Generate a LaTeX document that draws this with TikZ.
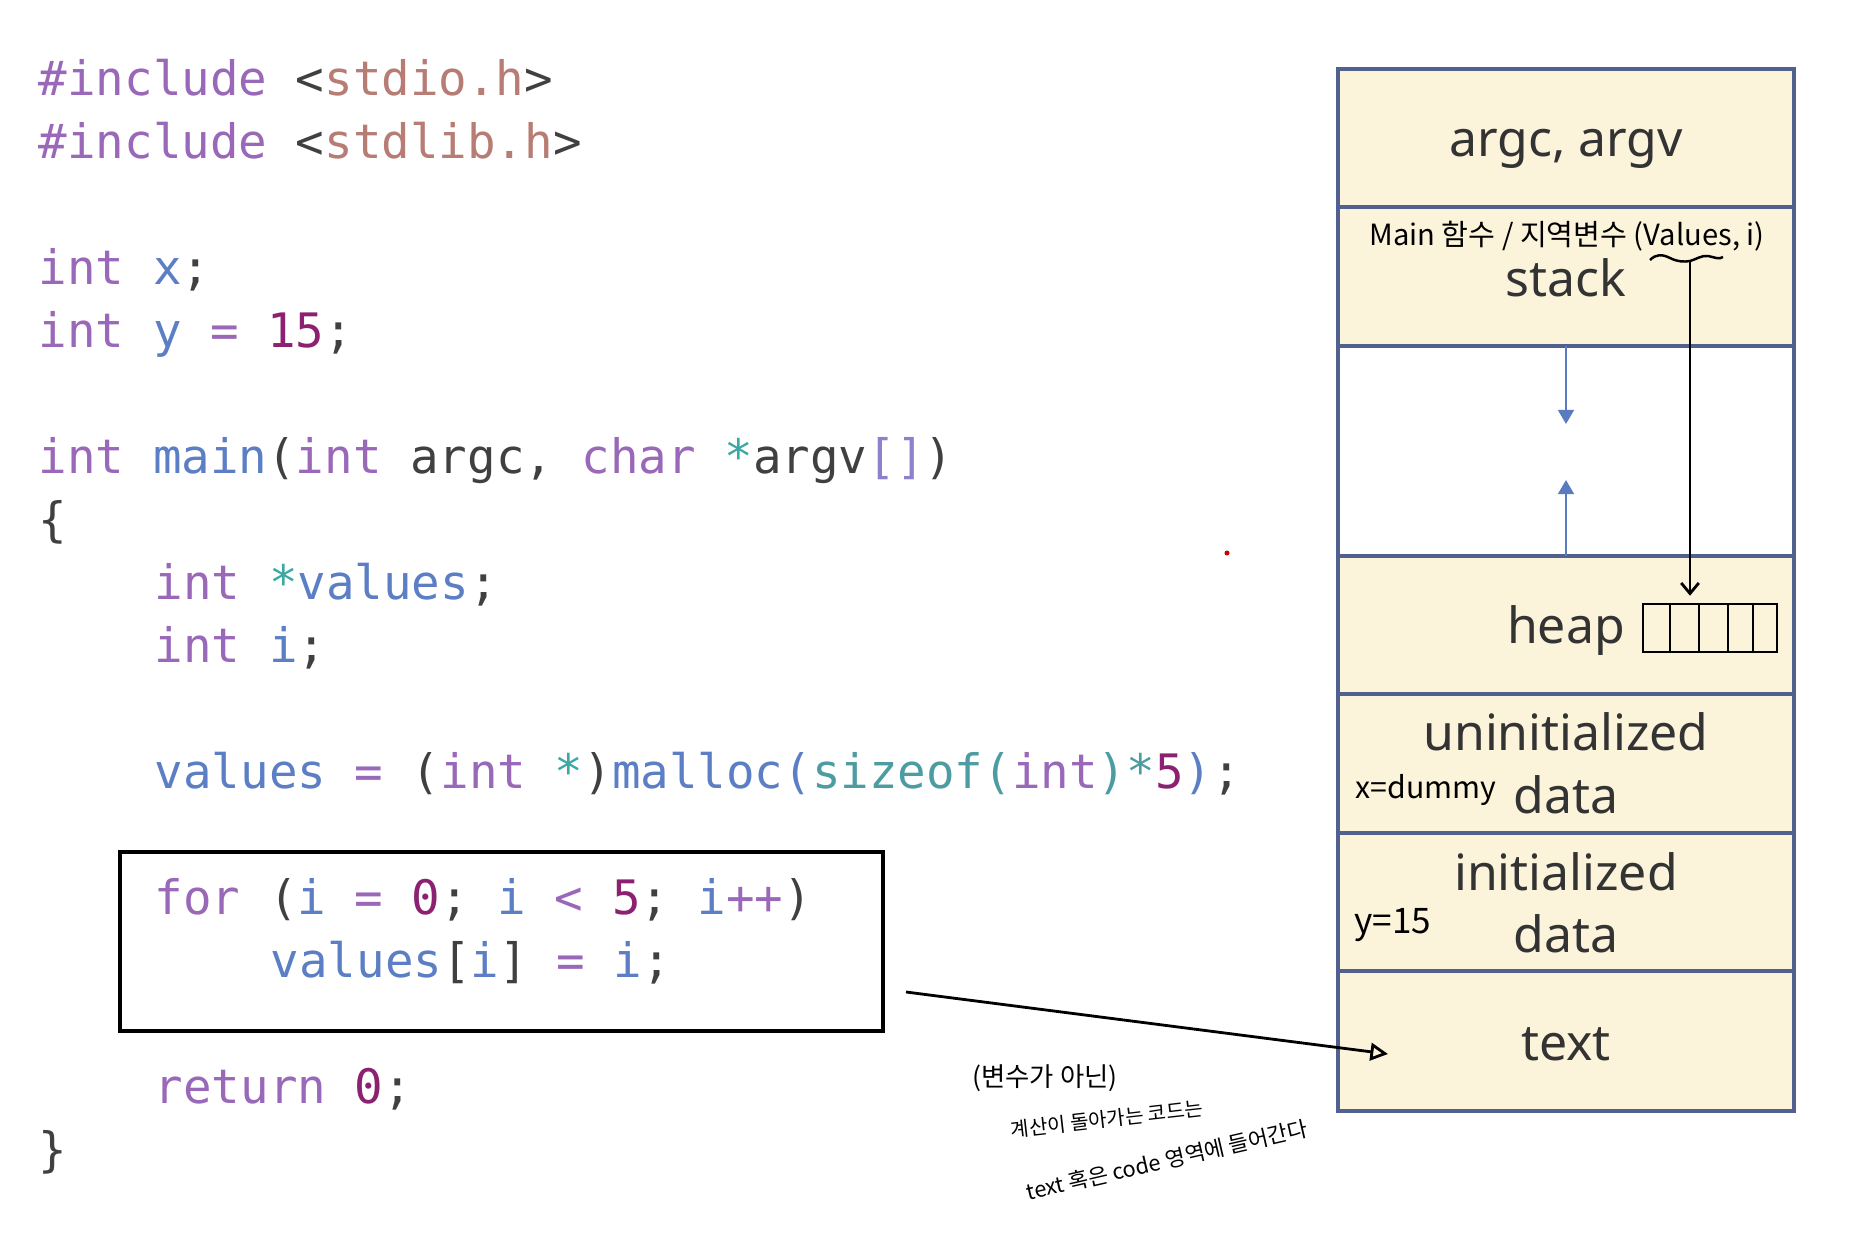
\documentclass[tikz,border=0pt]{standalone}
\usepackage{fontspec}
\setmonofont{DejaVu Sans Mono}
\setsansfont{Noto Sans}
\newfontfamily\hangulfont{Noto Sans CJK KR}
\usetikzlibrary{arrows.meta,positioning}

\definecolor{segcream}{HTML}{FCF3DB}
\definecolor{segblue}{HTML}{50618F}
\definecolor{segtext}{HTML}{333333}
\definecolor{growblue}{HTML}{5B7BC0}
\definecolor{codedark}{HTML}{404040}
\definecolor{kwpurple}{HTML}{9A68B8}
\definecolor{varblue}{HTML}{5B7EC4}
\definecolor{numplum}{HTML}{8B2170}
\definecolor{strrose}{HTML}{B77C74}
\definecolor{starteal}{HTML}{3BA8A3}
\definecolor{fnteal}{HTML}{4C9CA2}
\definecolor{brlav}{HTML}{8C80CF}

\newcommand{\codefont}{\ttfamily\fontsize{13.5}{16}\selectfont}
\newcommand{\segfont}{\sffamily\fontsize{14.2}{17}\selectfont}
\newcommand{\ckw}[1]{\textcolor{kwpurple}{#1}}
\newcommand{\cvar}[1]{\textcolor{varblue}{#1}}
\newcommand{\cnum}[1]{\textcolor{numplum}{#1}}
\newcommand{\cstr}[1]{\textcolor{strrose}{#1}}
\newcommand{\cstar}[1]{\textcolor{starteal}{#1}}
\newcommand{\cfn}[1]{\textcolor{fnteal}{#1}}
\newcommand{\cbr}[1]{\textcolor{brlav}{#1}}

\begin{document}
\begin{tikzpicture}[x=0.01cm,y=-0.01cm,
    codeline/.style={anchor=base west,inner sep=0pt,font=\codefont,text=codedark},
    seglabel/.style={anchor=base,inner sep=0pt,font=\segfont,text=segtext},
    memseg/.style={draw=segblue,line width=1.1pt},
    growth/.style={draw=growblue,line width=0.6pt,-{Triangle[width=4.5pt,length=4pt]}},
    handnote/.style={inner sep=0pt,font=\hangulfont\fontsize{#1}{#1}\selectfont}]
    \useasboundingbox (0,0) rectangle (1856,1242);

    % Source code
    \node[codeline] (inc1) at (38,95) {\ckw{\#include} <\cstr{stdio.h}>};
    \node[codeline] (inc2) at (38,158) {\ckw{\#include} <\cstr{stdlib.h}>};
    \node[codeline] (declx) at (38,284) {\ckw{int} \cvar{x};};
    \node[codeline] (decly) at (38,347) {\ckw{int} \cvar{y} \ckw{=} \cnum{15};};
    \node[codeline] (mainsig) at (38,473) {\ckw{int} \cvar{main}(\ckw{int} argc, \ckw{char} \cstar{*}argv\cbr{[]})};
    \node[codeline] (lbrace) at (38,536) {\{};
    \node[codeline] (declvalues) at (154,599) {\ckw{int} \cstar{*}\cvar{values};};
    \node[codeline] (decli) at (154,662) {\ckw{int} \cvar{i};};
    \node[codeline] (mallocline) at (154,788) {\cvar{values} \ckw{=} (\ckw{int} \cstar{*})\cvar{malloc(}\cfn{sizeof(}\ckw{int}\cfn{)*}\cnum{5}\cvar{)};};
    \node[codeline] (forline) at (154,914) {\ckw{for} (\cvar{i} \ckw{=} \cnum{0}; \cvar{i} \ckw{<} \cnum{5}; \cvar{i}\ckw{++})};
    \node[codeline] (assignline) at (270,977) {\cvar{values}[\cvar{i}] \ckw{=} \cvar{i};};
    \node[codeline] (retline) at (154,1103) {\ckw{return} \cnum{0};};
    \node[codeline] (rbrace) at (38,1166) {\}};

    % Loop box
    \draw[line width=1pt] (120,852) rectangle (883,1031);
    \coordinate (loopout) at (906,992);

    % Memory layout
    \foreach \t/\b/\c in {69/207/segcream,207/346/segcream,346/556/white,556/694/segcream,
                          694/833/segcream,833/971/segcream,971/1111/segcream}
        \draw[memseg,fill=\c] (1338,\t) rectangle (1794,\b);

    \node[seglabel] (argclabel) at (1566,156) {argc, argv};
    \node[seglabel] (stacklabel) at (1566,296) {stack};
    \node[seglabel] (heaplabel) at (1566,643) {heap};
    \node[seglabel] (uninitlabel) at (1566,750) {uninitialized};
    \node[seglabel] (uninitdata) at (1566,813) {data};
    \node[seglabel] (initlabel) at (1566,890) {initialized};
    \node[seglabel] (initdata) at (1566,952) {data};
    \node[seglabel] (textlabel) at (1566,1060) {text};

    % Growth arrows
    \coordinate (stackend) at (1566,346);
    \coordinate (stackgrow) at (1566,424);
    \coordinate (heapend) at (1566,556);
    \coordinate (heapgrow) at (1566,480);
    \draw[growth] (stackend) -- (stackgrow);
    \draw[growth] (heapend) -- (heapgrow);

    % Notes on the segments
    \node[handnote=8.3] (stacknote) at (1567,236) {Main 함수 / 지역변수 (Values, i)};
    \node[handnote=8.6] (xnote) at (1426,790) {x=dummy};
    \node[handnote=10] (ynote) at (1393,925) {y=15};

    % Pointer into the heap
    \draw[line width=0.7pt] (1650,260) .. controls (1656,254) and (1662,254) .. (1670,258)
        .. controls (1678,262) and (1684,262) .. (1690,261)
        .. controls (1697,259) and (1702,255) .. (1708,256)
        .. controls (1714,257) and (1719,260) .. (1723,257);
    \coordinate (valuesref) at (1690,261);
    \node[draw,line width=0.7pt,minimum width=1.34cm,minimum height=0.48cm,inner sep=0pt] (heaparr) at (1710,628) {};
    \foreach \x in {1670,1699,1728,1753}
        \draw[line width=0.7pt] (\x,604) -- (\x,652);
    \draw[line width=0.8pt,-{Straight Barb[length=3pt,width=5pt]},shorten >=2pt] (valuesref) -- (valuesref |- heaparr.north);

    % Code goes to the text segment
    \coordinate (textin) at (1388,1054);
    \draw[line width=0.8pt,-{Triangle[open,length=5pt,width=5pt]}] (loopout) -- (textin);

    \node[handnote=7.5] (note1) at (1045,1078) {(변수가 아닌)};
    \node[handnote=5.7,rotate=6.5] (note2) at (1107,1119) {계산이 돌아가는 코드는};
    \node[handnote=6.2,rotate=13] (note3) at (1167,1160) {text 혹은 code 영역에 들어간다};

    \fill[red!80!black] (1227,553) circle[radius=2.5];
\end{tikzpicture}
\end{document}
